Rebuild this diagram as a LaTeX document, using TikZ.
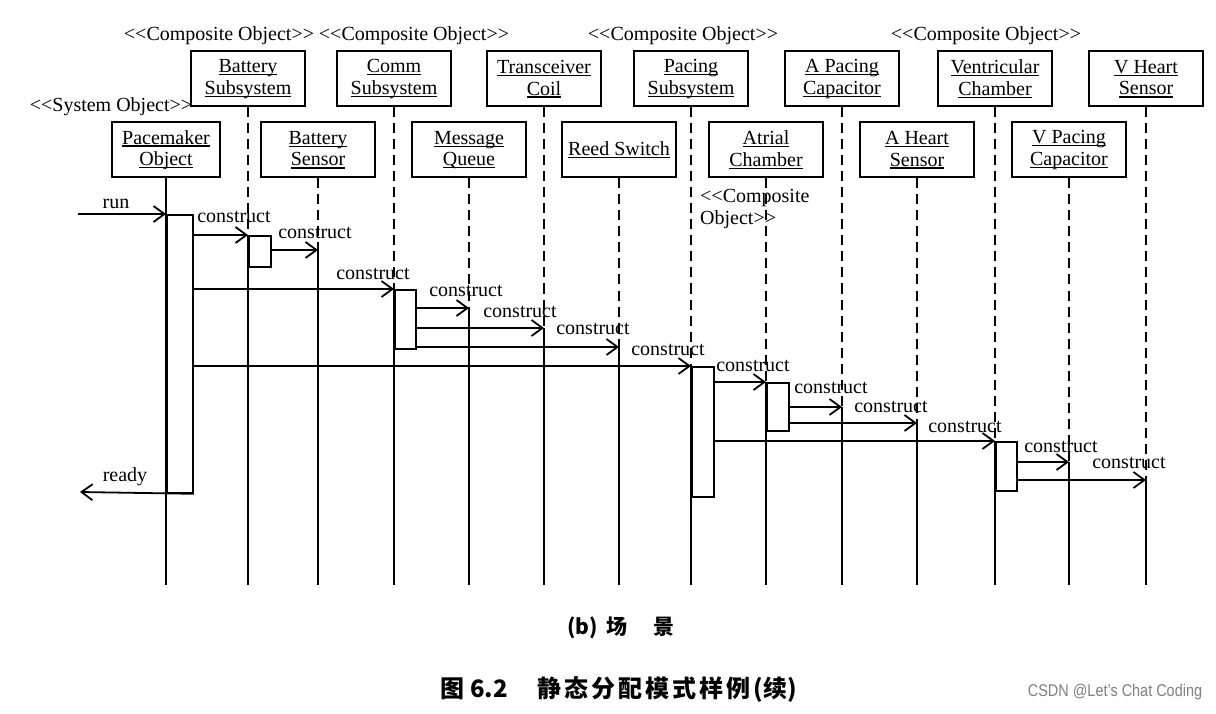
\documentclass[tikz,border=0pt]{standalone}
\usepackage{fontspec}
\setmainfont{Liberation Serif}
\setsansfont{Liberation Sans}
\newfontfamily\cjk{Noto Sans CJK SC}
\usetikzlibrary{arrows.meta}
\newcommand\myul[1]{\setbox0\hbox{#1}\rlap{\rule[-2.6pt]{\wd0}{1.2pt}}\box0}
\newcommand\ltlt{<\kern0pt<}
\newcommand\gtgt{>\kern0pt>}
\newcommand\cs{\hspace{3pt}}
\begin{document}
\begin{tikzpicture}[x=1pt,y=-1pt,
  obj/.style={draw,line width=2pt,minimum width=114pt,minimum height=55pt,align=center,inner sep=0pt,font=\fontsize{20}{21.5}\selectfont},
  lbl/.style={font=\fontsize{20}{22}\selectfont,inner sep=0pt},
  bar/.style={draw,line width=1.8pt,anchor=north west,inner sep=0pt,minimum width=22pt},
  life/.style={line width=1.7pt},
  dsh/.style={line width=1.7pt,dash pattern=on 10pt off 6pt},
  msg/.style={line width=1.8pt,-{Straight Barb[length=11pt,width=16pt,line width=1.8pt]}},
]
\path[use as bounding box,fill=white] (0,0) rectangle (1216,714);

% objects, top row
\node[obj] (bs)  at (248,79)  {\myul{Battery}\\\myul{Subsystem}};
\node[obj] (cm)  at (394,79)  {\myul{Comm}\\\myul{Subsystem}};
\node[obj] (tc)  at (544,79)  {\myul{Transceiver}\\\myul{Coil}};
\node[obj] (ps)  at (691,79)  {\myul{Pacing}\\\myul{Subsystem}};
\node[obj] (apc) at (842,79)  {\myul{A Pacing}\\\myul{Capacitor}};
\node[obj] (vch) at (995,79)  {\myul{Ventricular}\\\myul{Chamber}};
\node[obj] (vhs) at (1146,79) {\myul{V Heart}\\\myul{Sensor}};
% objects, bottom row
\node[obj,minimum width=108pt] (pm)  at (166,150) {\myul{Pacemaker}\\\myul{Object}};
\node[obj] (bsn) at (318,150) {\myul{Battery}\\\myul{Sensor}};
\node[obj] (mq)  at (469,150) {\myul{Message}\\\myul{Queue}};
\node[obj] (rs)  at (619,150) {\myul{Reed Switch}};
\node[obj] (ach) at (766,150) {\myul{Atrial}\\\myul{Chamber}};
\node[obj] (ahs) at (917,150) {\myul{A Heart}\\\myul{Sensor}};
\node[obj] (vpc) at (1069,150) {\myul{V Pacing}\\\myul{Capacitor}};

% stereotypes
\node[lbl] at (219,36) {\ltlt Composite Object\gtgt};
\node[lbl] at (414,36) {\ltlt Composite Object\gtgt};
\node[lbl] at (683,36) {\ltlt Composite Object\gtgt};
\node[lbl] at (986,36) {\ltlt Composite Object\gtgt};
\node[lbl] at (111,107) {\ltlt System Object\gtgt};
\node[lbl,anchor=west] at (700,198) {\ltlt Composite};
\node[lbl,anchor=west] at (700,220) {Object\gtgt};

% activation bars
\node[bar,minimum width=26pt,minimum height=278pt] (pmbar) at (pm.south |- 0,214) {};
\node[bar,minimum height=31pt] (bsbar) at (bs.south |- 0,235) {};
\node[bar,minimum width=21pt,minimum height=59pt] (cmbar) at (cm.south |- 0,289) {};
\node[bar,minimum height=130pt] (psbar) at (ps.south |- 0,366) {};
\node[bar,minimum height=48pt] (achbar) at (ach.south |- 0,382) {};
\node[bar,minimum width=21pt,minimum height=49pt] (vchbar) at (vch.south |- 0,441) {};

% arrival points on lifelines without bars
\coordinate (a2)  at (bsn.south |- 0,250);
\coordinate (a4)  at (mq.south |- 0,308);
\coordinate (a5)  at (tc.south |- 0,328);
\coordinate (a6)  at (rs.south |- 0,347);
\coordinate (a9)  at (apc.south |- 0,407);
\coordinate (a10) at (ahs.south |- 0,423);
\coordinate (a12) at (vpc.south |- 0,462);
\coordinate (a13) at (vhs.south |- 0,480);

% lifelines
\draw[life] (pm.south) -- (pm.south |- 0,585);
\draw[dsh] (bs.south) -- (bsbar.north west);   \draw[life] (bsbar.north west) -- (bs.south |- 0,585);
\draw[dsh] (bsn.south) -- (a2);                 \draw[life] (a2) -- (bsn.south |- 0,585);
\draw[dsh] (cm.south) -- (cmbar.north west);    \draw[life] (cmbar.north west) -- (cm.south |- 0,585);
\draw[dsh] (mq.south) -- (a4);                  \draw[life] (a4) -- (mq.south |- 0,585);
\draw[dsh] (tc.south) -- (a5);                  \draw[life] (a5) -- (tc.south |- 0,585);
\draw[dsh] (rs.south) -- (a6);                  \draw[life] (a6) -- (rs.south |- 0,585);
\draw[dsh] (ps.south) -- (psbar.north west);    \draw[life] (psbar.north west) -- (ps.south |- 0,585);
\draw[dsh] (ach.south) -- (achbar.north west);  \draw[life] (achbar.north west) -- (ach.south |- 0,585);
\draw[dsh] (apc.south) -- (a9);                 \draw[life] (a9) -- (apc.south |- 0,585);
\draw[dsh] (ahs.south) -- (a10);                \draw[life] (a10) -- (ahs.south |- 0,585);
\draw[dsh] (vch.south) -- (vchbar.north west);  \draw[life] (vchbar.north west) -- (vch.south |- 0,585);
\draw[dsh] (vpc.south) -- (a12);                \draw[life] (a12) -- (vpc.south |- 0,585);
\draw[dsh] (vhs.south) -- (a13);                \draw[life] (a13) -- (vhs.south |- 0,585);

% messages
\coordinate (runin) at (78,214);
\draw[msg] (runin) -- (pmbar.north west);
\node[lbl] at (116,204) {run};

\draw[msg] (pmbar.east |- bsbar.north) -- (bsbar.north west);
\node[lbl] at (234,217) {construct};
\draw[msg] (bsbar.east |- a2) -- (a2);
\node[lbl] at (315,233) {construct};

\draw[msg] (pmbar.east |- cmbar.north) -- (cmbar.north west);
\node[lbl] at (373,274) {construct};
\draw[msg] (cmbar.east |- a4) -- (a4);
\node[lbl] at (466,291) {construct};
\draw[msg] (cmbar.east |- a5) -- (a5);
\node[lbl] at (520,312) {construct};
\draw[msg] (cmbar.east |- a6) -- (a6);
\node[lbl] at (593,329) {construct};

\draw[msg] (pmbar.east |- psbar.north) -- (psbar.north west);
\node[lbl] at (668,350) {construct};
\draw[msg] (psbar.east |- achbar.north) -- (achbar.north west);
\node[lbl] at (753,366) {construct};
\draw[msg] (achbar.east |- a9) -- (a9);
\node[lbl] at (831,388) {construct};
\draw[msg] (achbar.east |- a10) -- (a10);
\node[lbl] at (891,407) {construct};
\draw[msg] (psbar.east |- vchbar.north) -- (vchbar.north west);
\node[lbl] at (965,427) {construct};
\draw[msg] (vchbar.east |- a12) -- (a12);
\node[lbl] at (1061,447) {construct};
\draw[msg] (vchbar.east |- a13) -- (a13);
\node[lbl] at (1129,463) {construct};

\coordinate (readyout) at (80,492);
\draw[msg] (pmbar.south east) -- (readyout);
\node[lbl] at (125,477) {ready};

% captions
\node[inner sep=0pt,font=\cjk\bfseries\fontsize{21}{23}\selectfont] at (621,628) {(b)\hspace{9pt}场\hspace{26pt}景};
\node[inner sep=0pt,font=\cjk\bfseries\fontsize{24}{26}\selectfont,anchor=west] at (440,690) {图\hspace{6pt}6.2\hspace{30pt}静\cs 态\cs 分\cs 配\cs 模\cs 式\cs 样\cs 例\cs (续)};
\node[inner sep=0pt,text=black!50,font=\sffamily\fontsize{17}{19}\selectfont,xscale=0.85] at (1115,692) {CSDN @Let's Chat Coding};
\end{tikzpicture}
\end{document}
